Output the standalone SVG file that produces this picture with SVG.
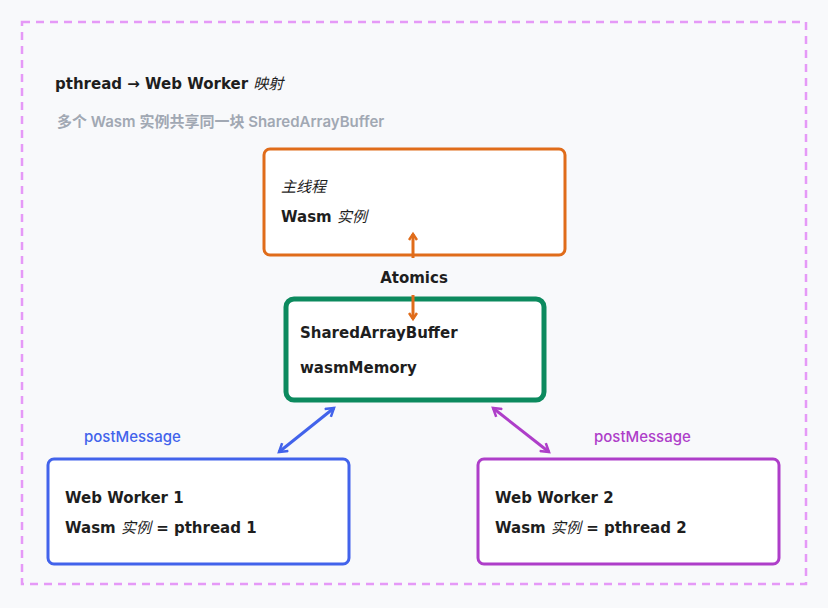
<svg xmlns="http://www.w3.org/2000/svg" width="828" height="608" viewBox="0 0 828 608">
<style>
.t{font-family:"DejaVu Sans","Noto Sans CJK SC",sans-serif;font-size:15px;font-weight:bold;fill:#1e1e1e}
.i{font-style:italic;font-weight:normal}
.box{fill:#fff}
</style>
<defs>
<marker id="ao" markerWidth="10" markerHeight="10" refX="7" refY="5" orient="auto-start-reverse" markerUnits="userSpaceOnUse"><path d="M1,1 L7,5 L1,9" fill="none" stroke="#e06c1a" stroke-width="2.5"/></marker>
<marker id="ab" markerWidth="12" markerHeight="12" refX="9" refY="6" orient="auto-start-reverse" markerUnits="userSpaceOnUse"><path d="M1,1 L9,6 L1,11" fill="none" stroke="#4263eb" stroke-width="2.5"/></marker>
<marker id="ap" markerWidth="12" markerHeight="12" refX="9" refY="6" orient="auto-start-reverse" markerUnits="userSpaceOnUse"><path d="M1,1 L9,6 L1,11" fill="none" stroke="#ae3ec9" stroke-width="2.5"/></marker>
</defs>
<rect width="828" height="608" fill="#f8f9fb"/>
<rect x="22" y="22" width="784" height="562" fill="none" stroke="#e599f7" stroke-width="2.5" stroke-dasharray="8 6"/>
<text x="55" y="89" class="t">pthread → Web Worker <tspan class="i">映射</tspan></text>
<text x="57" y="127" font-family="Inter,'Noto Sans CJK SC',sans-serif" font-size="15" font-weight="600" fill="#a1a8b3">多个 Wasm 实例共享同一块 SharedArrayBuffer</text>
<g id="main">
<rect x="264" y="149" width="301" height="106" rx="6" class="box" stroke="#e06c1a" stroke-width="3"/>
<text x="281" y="192" class="t"><tspan class="i">主线程</tspan></text>
<text x="281" y="222" class="t">Wasm <tspan class="i">实例</tspan></text>
</g>
<g id="sab">
<rect x="286" y="299" width="258" height="101" rx="8" class="box" stroke="#0c8a5e" stroke-width="5"/>
<text x="300" y="338" class="t">SharedArrayBuffer</text>
<text x="300" y="373" class="t">wasmMemory</text>
</g>
<g id="worker1">
<rect x="48" y="459" width="301" height="105" rx="6" class="box" stroke="#4263eb" stroke-width="3"/>
<text x="65" y="503" class="t">Web Worker 1</text>
<text x="65" y="533" class="t">Wasm <tspan class="i">实例</tspan> = pthread 1</text>
</g>
<g id="worker2">
<rect x="478" y="459" width="301" height="105" rx="6" class="box" stroke="#ae3ec9" stroke-width="3"/>
<text x="495" y="503" class="t">Web Worker 2</text>
<text x="495" y="533" class="t">Wasm <tspan class="i">实例</tspan> = pthread 2</text>
</g>
<g id="connectors">
<line x1="413" y1="258" x2="413" y2="234" stroke="#e06c1a" stroke-width="3" marker-end="url(#ao)"/>
<line x1="413" y1="295" x2="413" y2="319" stroke="#e06c1a" stroke-width="3" marker-end="url(#ao)"/>
<text x="414" y="283" class="t" text-anchor="middle">Atomics</text>
<line x1="334" y1="408" x2="279" y2="452" stroke="#4263eb" stroke-width="3" marker-start="url(#ab)" marker-end="url(#ab)"/>
<line x1="493" y1="408" x2="549" y2="452" stroke="#ae3ec9" stroke-width="3" marker-start="url(#ap)" marker-end="url(#ap)"/>
<text x="84" y="442" font-family="Inter,sans-serif" font-size="15" font-weight="500" fill="#4263eb">postMessage</text>
<text x="594" y="442" font-family="Inter,sans-serif" font-size="15" font-weight="500" fill="#ae3ec9">postMessage</text>
</g>
</svg>
